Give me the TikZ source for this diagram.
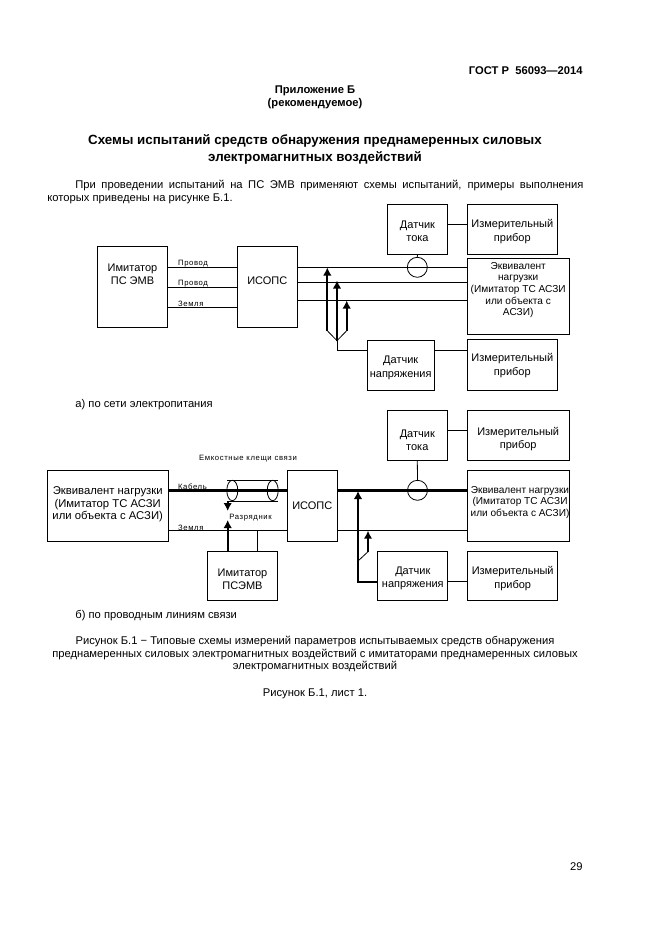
\documentclass[tikz,border=0pt]{standalone}
\usepackage{fontspec}
\setmainfont{Liberation Sans}
\newfontfamily\wirefont[LetterSpace=8]{Liberation Sans}
\usetikzlibrary{arrows.meta}
\usetikzlibrary{shapes.geometric}

\begin{document}
\begin{tikzpicture}[x=1pt, y=-1pt, line width=0.8pt,
	box/.style={draw, inner sep=0pt, align=center, font=\fontsize{11}{13.5}\selectfont},
	boxtext/.style={inner sep=0pt, align=center, font=\fontsize{11}{13.5}\selectfont},
	loadtext/.style={inner sep=0pt, align=center, font=\fontsize{10.1}{11.6}\selectfont},
	wirelabel/.style={inner sep=0pt, anchor=west, font=\wirefont\fontsize{7.7}{8}\selectfont},
	pagetext/.style={inner sep=0pt, font=\fontsize{11.2}{12.6}\selectfont},
	headtext/.style={inner sep=0pt, align=center, font=\bfseries\fontsize{11.2}{13}\selectfont},
	ring/.style={draw, circle, inner sep=0pt, minimum size=20pt},
	clampring/.style={draw, ellipse, inner sep=0pt, minimum width=11pt, minimum height=20.4pt},
	probe/.style={line width=2pt, -{Latex[length=8pt,width=8.5pt]}},
	cable/.style={line width=3.4pt}]
	\useasboundingbox (0,0) rectangle (661,936);
	
	% draw page text
	\node[headtext, anchor=east] (gost) at (583,71) {ГОСТ Р\ \ 56093—2014};
	\node[headtext] (annex) at (315,97) {Приложение Б\\(рекомендуемое)};
	\node[headtext, font=\bfseries\fontsize{13.35}{17}\selectfont] (title) at (315,149.7) {Схемы испытаний средств обнаружения преднамеренных силовых\\электромагнитных воздействий};
	\node[pagetext, anchor=north west, text width=536pt, align=justify] (intro) at (47,180) {\hspace*{28pt}При проведении испытаний на ПС ЭМВ применяют схемы испытаний, примеры выполнения\linebreak которых приведены на рисунке Б.1.};
	\node[pagetext, anchor=west] (capA) at (75,404.7) {а) по сети электропитания};
	\node[pagetext, anchor=west] (capB) at (75,615.7) {б) по проводным линиям связи};
	\node[pagetext, align=center] (figcap) at (315,654) {Рисунок Б.1 − Типовые схемы измерений параметров испытываемых средств обнаружения\\преднамеренных силовых электромагнитных воздействий с имитаторами преднамеренных силовых\\электромагнитных воздействий};
	\node[pagetext] (sheet) at (315,693.5) {Рисунок Б.1, лист 1.};
	\node[pagetext, anchor=east] (pageno) at (583,867) {29};
	
	% draw boxes of scheme a
	\node[box, minimum width=70.4pt, minimum height=80.6pt] (imitA) at (132.5,287) {};
	\node[boxtext] (imitAtext) at (132.5,274.5) {Имитатор\\ПС ЭМВ};
	\node[box, minimum width=60pt, minimum height=80.6pt] (isopsA) at (267.3,287) {};
	\node[boxtext] (isopsAtext) at (267.3,280.5) {ИСОПС};
	\node[box, minimum width=60.4pt, minimum height=50.3pt] (tokA) at (417.5,229.2) {};
	\node[boxtext] (tokAtext) at (417.5,231.5) {Датчик\\тока};
	\node[box, minimum width=90pt, minimum height=50.3pt] (measA1) at (512.3,229.2) {};
	\node[boxtext] (measA1text) at (512.3,231.5) {Измерительный\\прибор};
	\node[box, minimum width=101.7pt, minimum height=75.7pt] (loadA) at (518.2,296.2) {};
	\node[loadtext] (loadAtext) at (518.2,290) {Эквивалент\\нагрузки\\(Имитатор ТС АСЗИ\\или объекта с\\АСЗИ)};
	\node[box, minimum width=66.7pt, minimum height=49.3pt] (napA) at (400.7,365.4) {};
	\node[boxtext] (napAtext) at (400.7,368) {Датчик\\напряжения};
	\node[box, minimum width=90pt, minimum height=50.7pt] (measA2) at (512.3,364.7) {};
	\node[boxtext] (measA2text) at (512.3,365.5) {Измерительный\\прибор};
	
	% draw wires of scheme a
	\foreach \y in {267.3, 287.3, 307.3}
	\draw (imitA.east |- 0,\y) -- (isopsA.west |- 0,\y);
	
	\foreach \y in {267.3, 282.3, 300.3}
	\draw (isopsA.east |- 0,\y) -- (loadA.west |- 0,\y);
	
	\node[wirelabel] (wireA1) at (177.7,263.5) {Провод};
	\node[wirelabel] (wireA2) at (177.7,283.5) {Провод};
	\node[wirelabel] (wireA3) at (177.7,303.5) {Земля};
	
	% draw sensors of scheme a
	\node[ring] (ringA) at (417.3,267.3) {};
	\draw (tokA.south |- 0,254.3) -- (ringA.north);
	\draw (tokA.east |- 0,224) -- (measA1.west |- 0,224);
	\draw (napA.east |- 0,350) -- (measA2.west |- 0,350);
	
	% draw probes of scheme a
	\coordinate (forkA) at (337,340.7);
	\coordinate (forkA1) at (327.3,330.7);
	\coordinate (forkA3) at (346.7,330.7);
	\draw (forkA1) -- (forkA) -- (forkA3);
	\draw[probe] (forkA1) -- (327.3,267.5);
	\draw[probe] (forkA) -- (337,280.5);
	\draw[probe] (forkA3) -- (346.7,300.5);
	\draw (forkA) -- (337,350.7) -- (napA.west |- 0,350.7);
	
	% draw boxes of scheme b
	\node[box, minimum width=120.7pt, minimum height=70.3pt] (loadB) at (107.7,505.9) {};
	\node[boxtext, font=\fontsize{11.3}{12.6}\selectfont] (loadBtext) at (107.7,504.5) {Эквивалент нагрузки\\(Имитатор ТС АСЗИ\\или объекта с АСЗИ)};
	\node[box, minimum width=50pt, minimum height=70.3pt] (isopsB) at (312.3,505.9) {};
	\node[boxtext] (isopsBtext) at (312.3,505.5) {ИСОПС};
	\node[box, minimum width=70.4pt, minimum height=49.7pt] (simB) at (242.5,575.9) {};
	\node[boxtext] (simBtext) at (242.5,579.2) {Имитатор\\ПСЭМВ};
	\node[box, minimum width=60pt, minimum height=50.3pt] (tokB) at (417.3,435.2) {};
	\node[boxtext] (tokBtext) at (417.3,440.5) {Датчик\\тока};
	\node[box, minimum width=101.7pt, minimum height=50.3pt] (measB1) at (518.2,435.2) {};
	\node[boxtext] (measB1text) at (518.2,439.2) {Измерительный\\прибор};
	\node[box, minimum width=102pt, minimum height=71.4pt] (loadC) at (518.3,506) {};
	\node[loadtext] (loadCtext) at (520,502.2) {Эквивалент нагрузки\\(Имитатор ТС АСЗИ\\или объекта с АСЗИ)};
	\node[box, minimum width=70pt, minimum height=49.4pt] (napB) at (412.3,576) {};
	\node[boxtext] (napBtext) at (412.8,578.5) {Датчик\\напряжения};
	\node[box, minimum width=90.4pt, minimum height=49.7pt] (measB2) at (512.5,575.9) {};
	\node[boxtext] (measB2text) at (512.7,578.5) {Измерительный\\прибор};
	
	% draw wires of scheme b
	\draw[cable] (loadB.east |- 0,490.5) -- (isopsB.west |- 0,490.5);
	\draw[cable] (isopsB.east |- 0,490.5) -- (loadC.west |- 0,490.5);
	\draw (loadB.east |- 0,530.7) -- (isopsB.west |- 0,530.7);
	\draw (isopsB.east |- 0,530.7) -- (loadC.west |- 0,530.7);
	
	\node[wirelabel] (wireB1) at (177.7,487) {Кабель};
	\node[wirelabel] (wireB2) at (177.7,527.5) {Земля};
	\node[wirelabel, anchor=center] (clampname) at (248,458.5) {Емкостные клещи связи};
	\node[wirelabel] (gapname) at (229,517.7) {Разрядник};
	
	% draw clamp and spark gap
	\node[clampring] (clampL) at (232.3,490.5) {};
	\node[clampring] (clampR) at (272.7,490.5) {};
	\draw ([xshift=-5pt]clampL.north) -- ([xshift=5pt]clampR.north);
	\draw ([xshift=-5pt]clampL.south) -- ([xshift=5pt]clampR.south);
	\draw[probe] ([xshift=-4.6pt]clampL.south) -- (227.7,511);
	\draw[probe] (simB.north -| 227.7,0) -- (227.7,520);
	\draw (simB.north -| 257.3,0) -- (257.3,530.7);
	
	% draw sensors of scheme b
	\node[ring] (ringB) at (417.5,490.3) {};
	\draw (tokB.south) -- (ringB.north);
	\draw (tokB.east |- 0,430) -- (measB1.west |- 0,430);
	\draw (napB.east |- 0,581.7) -- (measB2.west |- 0,581.7);
	
	% draw probes of scheme b
	\coordinate (forkB) at (358,561);
	\draw[probe] (napB.west |- 0,581.7) -- (358,581.7) -- (358,491);
	\draw (forkB) -- (368,551.7);
	\draw[probe] (368,551.7) -- (368,530.7);
\end{tikzpicture}
\end{document}
